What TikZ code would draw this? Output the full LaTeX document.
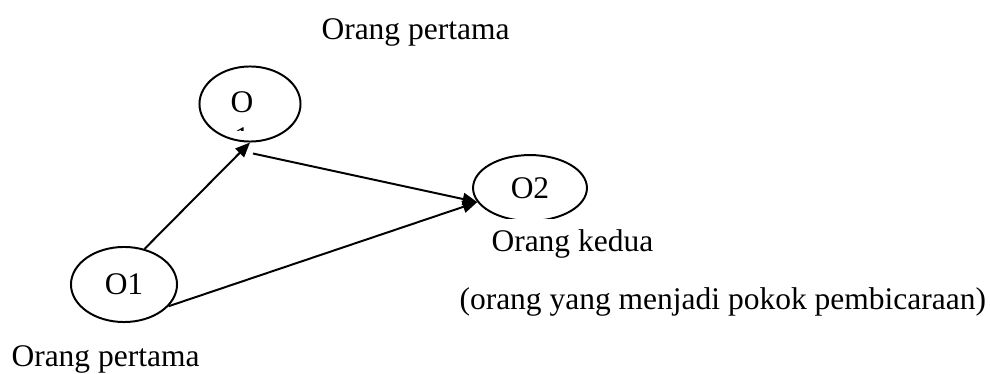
\documentclass[tikz,border=0pt]{standalone}
\usepackage{fontspec}
\setmainfont{Liberation Serif}
\usetikzlibrary{arrows.meta,shapes.geometric}

\begin{document}
\begin{tikzpicture}[
  x=0.381pt,y=-0.381pt,
  font=\fontsize{12}{14}\selectfont,
  oval/.style={ellipse, draw=black, line width=0.75pt, inner sep=0pt},
  label/.style={anchor=base west, inner sep=0pt},
  link/.style={-{Triangle[length=5.6pt,width=4.6pt]}, line width=0.75pt}
]
\useasboundingbox (0,0) rectangle (990,374);

% Ellipses
\node[oval, minimum width=38.5pt, minimum height=28.6pt] (otop) at (250,104) {};
\node[inner sep=0pt] (otoptxt) at (242,102) {O};
\begin{scope}
  \clip (230,124) rectangle (250,130);
  \node[anchor=base, inner sep=0pt] (otopone) at (242,148) {1};
\end{scope}
\node[oval, minimum width=40.4pt, minimum height=28.6pt] (oone) at (124,284.5) {O1};
\begin{scope}
  \clip (400,120) rectangle (660,218);
  \node[oval, minimum width=43.4pt, minimum height=25.1pt] (otwo) at (530,188) {O2};
\end{scope}

% Labels
\node[label] (toplabel) at (321,39) {Orang pertama};
\node[label] (twolabel) at (491,251) {Orang kedua};
\node[label] (twonote) at (459,309) {(orang yang menjadi pokok pembicaraan)};
\node[label] (onelabel) at (11,366) {Orang pertama};

% Arrows
\draw[link] (oone.60) -- (otop.south);
\draw[link] ([shift={(3,11)}]otop.south) -- (otwo.195);
\draw[link] (oone.334) -- (otwo.195);

\end{tikzpicture}
\end{document}
